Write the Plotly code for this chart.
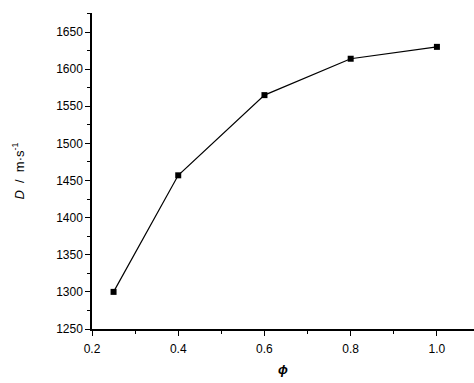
import plotly.graph_objects as go

phi = [0.25, 0.4, 0.6, 0.8, 1.0]
D = [1300, 1457, 1565, 1614, 1630]
x_ticks = [0.2, 0.4, 0.6, 0.8, 1.0]
x_labels = ["0.2", "0.4", "0.6", "0.8", "1.0"]
y_ticks = [1250, 1300, 1350, 1400, 1450, 1500, 1550, 1600, 1650]

fig = go.Figure()
fig.add_trace(go.Scatter(
    x=phi, y=D, mode="lines+markers",
    line=dict(color="black", width=1.2),
    marker=dict(symbol="square", size=6, color="black"),
    showlegend=False,
))

font = dict(family="Liberation Sans, Arial, sans-serif", size=12, color="black")
fig.update_layout(
    width=474, height=383,
    margin=dict(l=92, r=0, t=13, b=54, autoexpand=False),
    paper_bgcolor="white", plot_bgcolor="white",
    font=font,
)
fig.update_xaxes(
    range=[0.2, 1.086], tickvals=x_ticks, ticktext=x_labels,
    showline=True, linecolor="black", linewidth=1.5,
    ticks="outside", ticklen=5, tickwidth=1.2, tickcolor="black",
    minor=dict(ticks="outside", ticklen=3, tickwidth=1.2, tickcolor="black", dtick=0.1, tick0=0.2),
    showgrid=False, zeroline=False, automargin=False,
    tickfont=dict(size=12, color="black"), ticklabelstandoff=3,
    title=dict(text="<b><i>ϕ</i></b>", standoff=10, font=dict(size=13, color="black")),
)
fig.update_yaxes(
    range=[1250, 1675.6], tickvals=y_ticks,
    showline=True, linecolor="black", linewidth=1.5,
    ticks="outside", ticklen=5, tickwidth=1.2, tickcolor="black",
    minor=dict(ticks="outside", ticklen=3, tickwidth=1.2, tickcolor="black", dtick=25, tick0=1250),
    showgrid=False, zeroline=False, automargin=False,
    tickfont=dict(size=12, color="black"),
    title=dict(text="<i>D</i>  /  m·s<sup>-1</sup>", standoff=29, font=dict(size=13, color="black")),
)
fig.write_html("out.html", config={"displayModeBar": False},
               post_script="document.body.style.margin='0';")
